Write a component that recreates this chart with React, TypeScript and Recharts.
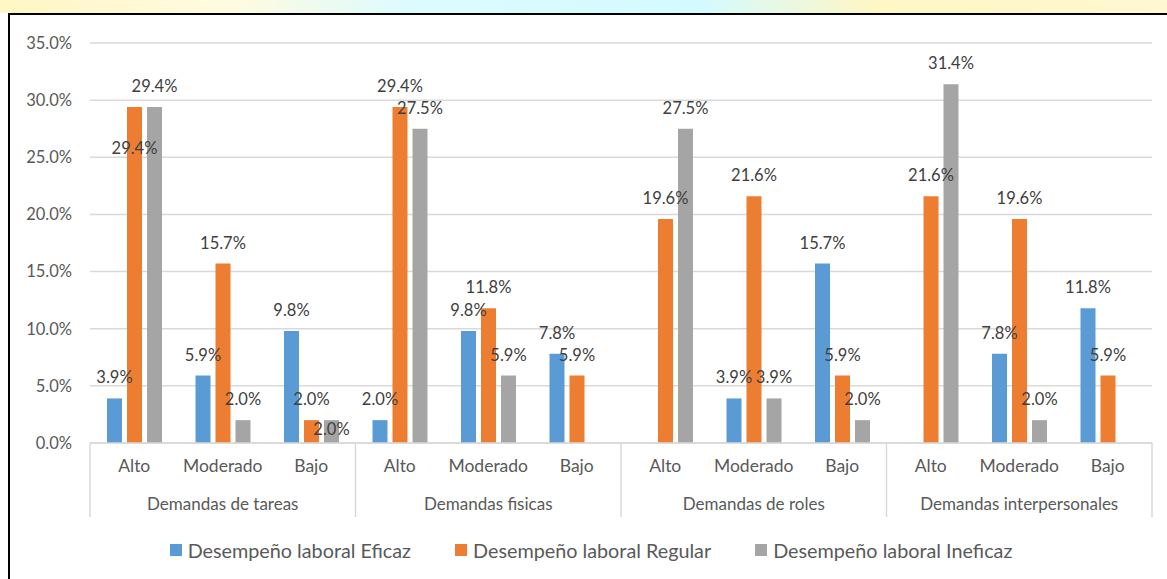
import React from "react";
import { BarChart, Bar, XAxis, YAxis, CartesianGrid, Legend, LabelList } from "recharts";

const grupos = ["Demandas de tareas", "Demandas fisicas", "Demandas de roles", "Demandas interpersonales"];
const niveles = ["Alto", "Moderado", "Bajo"];

const eficaz = [3.9, 5.9, 9.8, 2.0, 9.8, 7.8, null, 3.9, 15.7, null, 7.8, 11.8];
const regular = [29.4, 15.7, 2.0, 29.4, 11.8, 5.9, 19.6, 21.6, 5.9, 21.6, 19.6, 5.9];
const ineficaz = [29.4, 2.0, 2.0, 27.5, 5.9, null, 27.5, 3.9, 2.0, 31.4, 2.0, null];

const yTicks = [0, 5, 10, 15, 20, 25, 30, 35];

const series = [
  { key: "eficaz", name: "Desempeño laboral Eficaz", color: "#5B9BD5" },
  { key: "regular", name: "Desempeño laboral Regular", color: "#ED7D31" },
  { key: "ineficaz", name: "Desempeño laboral Ineficaz", color: "#A5A5A5" },
];

const data = grupos.flatMap((g, gi) =>
  niveles.map((n, ni) => {
    const i = gi * 3 + ni;
    return { grupo: g, nivel: n, eficaz: eficaz[i], regular: regular[i], ineficaz: ineficaz[i] };
  })
);

const W = 1167;
const H = 579;
const PLOT_LEFT = 90;
const PLOT_RIGHT = 1152;
const PLOT_BOTTOM = 443;
const AXIS1_H = 40;
const AXIS2_H = 34;
const GROUP_W = (PLOT_RIGHT - PLOT_LEFT) / grupos.length;
const FONT = "Lato, 'Open Sans', sans-serif";
const TEXT = "#595959";

const pct = (v: any) => `${Number(v).toFixed(1)}%`;

// labels of equal neighbours would overlap: one of them is dropped inside the bar
function labelFor(key: string) {
  return (props: any) => {
    const { x, y, width, height, value, index } = props;
    if (value == null) return null;
    const r = regular[index];
    const n = ineficaz[index];
    const clash = r != null && n != null && Math.abs(r - n) < 0.5;
    const moveDown = clash && ((key === "regular" && r > 5) || (key === "ineficaz" && r <= 5));
    const cy = moveDown ? Math.min(y + 41, y + height - 14) : y - 21;
    return (
      <text x={x + width / 2} y={cy} textAnchor="middle" dominantBaseline="central" fill="#404040" fontSize={16.5}>
        {pct(value)}
      </text>
    );
  };
}

function GroupTick(props: any) {
  const { x, payload, index } = props;
  const left = x - GROUP_W / 2;
  const bottom = PLOT_BOTTOM + AXIS1_H + AXIS2_H;
  return (
    <g>
      <line x1={left} x2={left} y1={PLOT_BOTTOM} y2={bottom} stroke="#d9d9d9" strokeWidth={1.5} />
      {index === grupos.length - 1 && (
        <line x1={left + GROUP_W} x2={left + GROUP_W} y1={PLOT_BOTTOM} y2={bottom} stroke="#d9d9d9" strokeWidth={1.5} />
      )}
      <text x={x} y={PLOT_BOTTOM + AXIS1_H + 20} textAnchor="middle" dominantBaseline="central" fill={TEXT} fontSize={17}>
        {payload.value}
      </text>
    </g>
  );
}

function LegendBox() {
  return (
    <div
      style={{
        height: 62,
        display: "flex",
        justifyContent: "center",
        alignItems: "center",
        paddingTop: 4,
        boxSizing: "border-box",
        fontFamily: FONT,
        fontSize: 19.8,
        color: TEXT,
      }}
    >
      {series.map((s) => (
        <div key={s.key} style={{ display: "flex", alignItems: "center", margin: "0 22px" }}>
          <span style={{ width: 12, height: 12, background: s.color, marginRight: 6, display: "inline-block" }} />
          {s.name}
        </div>
      ))}
    </div>
  );
}

export default function App() {
  return (
    <div style={{ position: "absolute", left: 0, top: 0, width: W, height: H, overflow: "hidden", background: "#fff" }}>
      <div
        style={{
          position: "absolute",
          left: 0,
          top: 0,
          width: W,
          height: 13,
          background: "linear-gradient(90deg, #fff6c4 0%, #fffbe0 20%, #dcfbff 35%, #d4faff 60%, #fff6c4 75%, #fff8d0 100%)",
        }}
      />
      <div
        style={{
          position: "absolute",
          left: 8,
          top: 13,
          width: W,
          height: H,
          borderLeft: "2px solid #000",
          borderTop: "2px solid #000",
          background: "#fff",
        }}
      />
      <div style={{ position: "absolute", left: 0, top: 0 }}>
        <BarChart
          width={W}
          height={H}
          data={data}
          margin={{ top: 43, right: W - PLOT_RIGHT, left: 30, bottom: 0 }}
          barSize={15}
          barGap={5}
          style={{ fontFamily: FONT }}
        >
          <CartesianGrid vertical={false} stroke="#d9d9d9" strokeWidth={1.5} />
          <YAxis
            domain={[0, 35]}
            ticks={yTicks}
            width={60}
            axisLine={false}
            tickLine={false}
            tickMargin={12}
            tick={{ fill: TEXT, fontSize: 16.5 }}
            tickFormatter={(v) => `${Number(v).toFixed(1)}%`}
          />
          <XAxis
            dataKey="nivel"
            height={AXIS1_H}
            tickLine={false}
            axisLine={{ stroke: "#d9d9d9", strokeWidth: 1.5 }}
            tickMargin={11}
            tick={{ fill: TEXT, fontSize: 17.5 }}
            interval={0}
          />
          <XAxis
            xAxisId="grupo"
            dataKey="grupo"
            allowDuplicatedCategory={false}
            height={AXIS2_H}
            tickLine={false}
            axisLine={false}
            tick={<GroupTick />}
            interval={0}
          />
          <Legend verticalAlign="bottom" content={() => <LegendBox />} />
          {series.map((s) => (
            <Bar key={s.key} dataKey={s.key} name={s.name} fill={s.color} isAnimationActive={false}>
              <LabelList dataKey={s.key} content={labelFor(s.key)} />
            </Bar>
          ))}
        </BarChart>
      </div>
    </div>
  );
}
